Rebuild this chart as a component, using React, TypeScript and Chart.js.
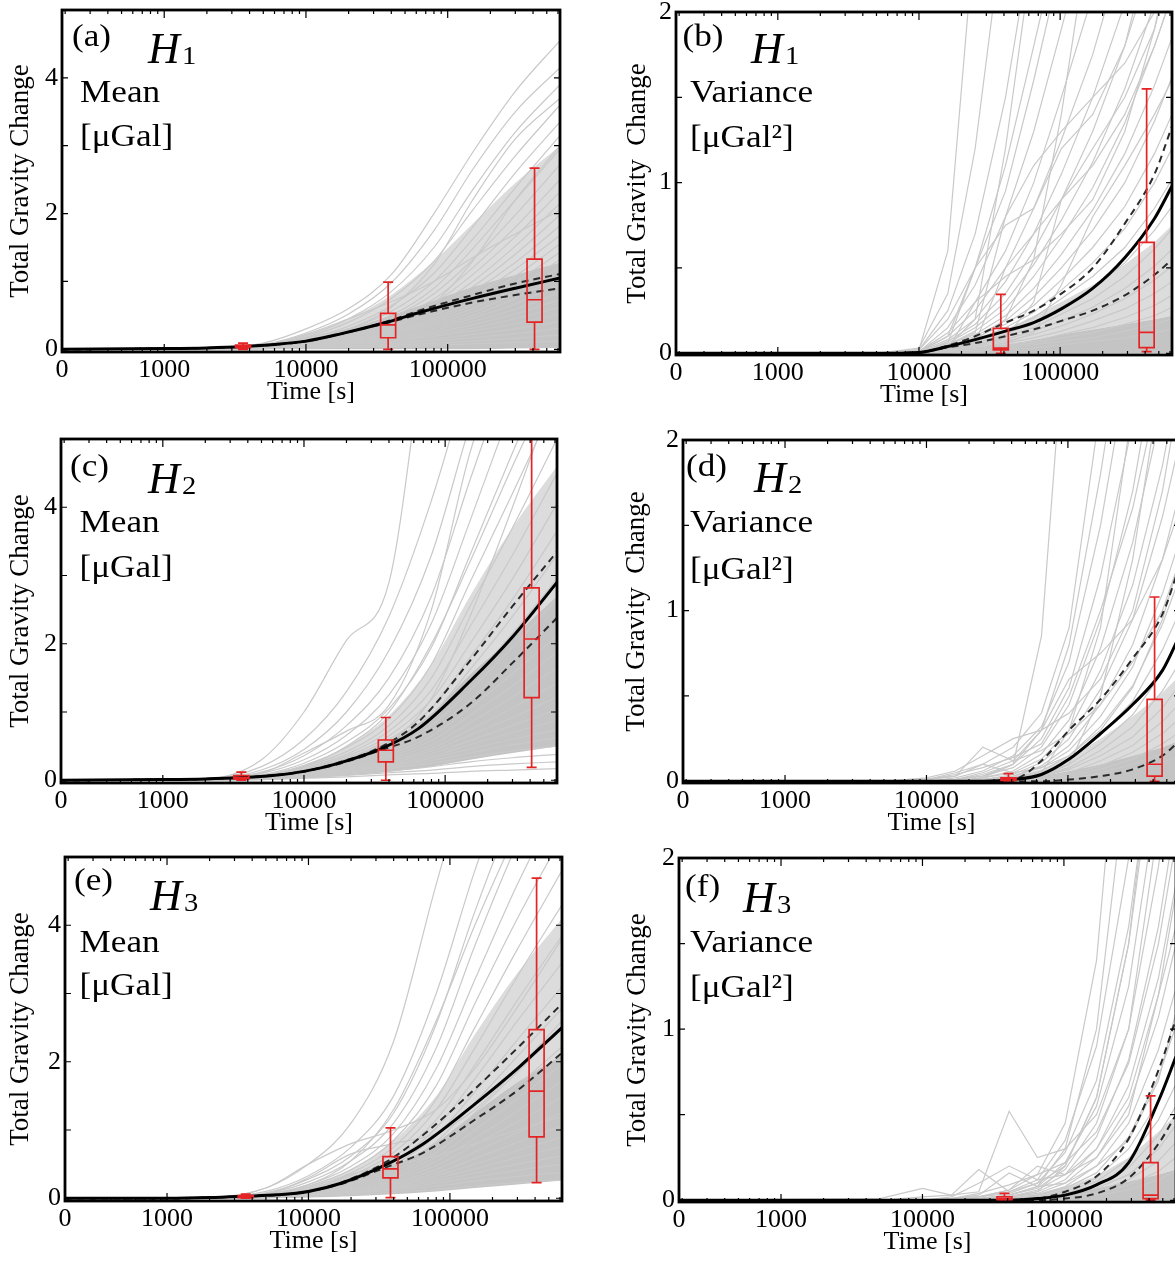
import React, { useEffect, useRef } from 'react';
import { Chart, registerables } from 'chart.js';
Chart.register(...registerables);

const FONT = '"Liberation Serif", "Times New Roman", Times, serif';

// ---------- axes ----------
const X_MIN = 190;
const X_MAX = 620000;
const X_TICK_VALUES = [190, 1000, 10000, 100000];
const X_TICK_LABELS = ['0', '1000', '10000', '100000'];
const X_MINOR_DECADES = [100, 1000, 10000, 100000];
const X_MINOR_MULTS = [1, 2, 3, 4, 5, 6, 7, 8, 9];
const MEAN_Y_TICKS = [0, 2, 4];
const MEAN_Y_MINOR = [0, 1, 2, 3, 4, 5];
const VAR_Y_TICKS = [0, 1, 2];
const VAR_Y_MINOR = [0, 0.5, 1, 1.5, 2];

// ---------- time grids [s] ----------
const T_MEAN_LINE = [190, 1000, 2000, 3600, 6000, 10000, 17000, 36000, 65000, 150000, 300000, 620000];
const T_MEAN_GRAY = [190, 2000, 5000, 10000, 20000, 40000, 80000, 150000, 300000, 620000];
const T_VAR = [190, 5000, 10000, 16000, 25000, 41000, 65000, 102000, 170000, 287000, 466000, 620000];
const BOX_T_MEAN = [3600, 38000, 410000];
const BOX_T_VAR = [38000, 410000];

// ---------- (a) H1 mean ----------
const A_MEAN = [0, 0.01, 0.02, 0.04, 0.07, 0.12, 0.22, 0.39, 0.55, 0.75, 0.9, 1.05];
const A_UPPER = [0, 0.01, 0.02, 0.04, 0.07, 0.12, 0.22, 0.4, 0.58, 0.8, 0.97, 1.11];
const A_LOWER = [0, 0.01, 0.02, 0.04, 0.07, 0.12, 0.22, 0.38, 0.52, 0.69, 0.8, 0.9];
const A_CORE_LO = [0, 0, 0, 0, 0, 0, 0, 0, 0.01, 0.02];
const A_CORE_HI = [0, 0.01, 0.04, 0.15, 0.3, 0.5, 0.72, 0.92, 1.1, 1.28];
const A_MID_HI = [0, 0.01, 0.06, 0.22, 0.45, 0.8, 1.3, 1.85, 2.45, 3.0];
const A_BOXES = [[0, 0.025, 0.04, 0.06, 0.09], [0, 0.17, 0.36, 0.53, 0.99], [0, 0.4, 0.73, 1.33, 2.67]];
const A_GRAY = [
  [0, 0.01, 0.09, 0.3, 0.6, 1.1, 2.0, 2.9, 3.8, 4.55],
  [0, 0.01, 0.07, 0.24, 0.52, 0.98, 1.75, 2.65, 3.5, 4.15],
  [0, 0.01, 0.06, 0.2, 0.45, 0.85, 1.5, 2.35, 3.2, 3.9],
  [0, 0.01, 0.05, 0.18, 0.4, 0.75, 1.3, 2.05, 2.85, 3.6],
  [0, 0.01, 0.05, 0.16, 0.34, 0.64, 1.12, 1.8, 2.6, 3.35],
  [0, 0.01, 0.05, 0.14, 0.3, 0.56, 1.0, 1.62, 2.38, 3.15],
  [0, 0.01, 0.04, 0.13, 0.28, 0.5, 0.9, 1.48, 2.2, 2.95],
  [0, 0.01, 0.04, 0.12, 0.26, 0.47, 0.82, 1.32, 1.98, 2.72],
  [0, 0.01, 0.04, 0.12, 0.24, 0.43, 0.74, 1.2, 1.8, 2.5],
  [0, 0.01, 0.04, 0.11, 0.22, 0.4, 0.68, 1.1, 1.66, 2.32],
  [0, 0.01, 0.03, 0.1, 0.21, 0.37, 0.62, 1.0, 1.52, 2.15],
  [0, 0.01, 0.03, 0.1, 0.2, 0.35, 0.58, 0.92, 1.4, 1.98],
  [0, 0.01, 0.03, 0.09, 0.19, 0.33, 0.54, 0.85, 1.28, 1.82],
  [0, 0.01, 0.03, 0.09, 0.18, 0.31, 0.5, 0.78, 1.18, 1.68],
  [0, 0.01, 0.03, 0.08, 0.17, 0.29, 0.46, 0.72, 1.08, 1.55],
  [0, 0.01, 0.03, 0.08, 0.16, 0.27, 0.43, 0.66, 0.99, 1.43],
  [0, 0.01, 0.03, 0.08, 0.15, 0.25, 0.4, 0.6, 0.9, 1.32],
  [0, 0.01, 0.02, 0.07, 0.14, 0.23, 0.37, 0.55, 0.82, 1.2],
  [0, 0.01, 0.02, 0.07, 0.13, 0.22, 0.34, 0.5, 0.75, 1.08],
  [0, 0.01, 0.02, 0.06, 0.12, 0.2, 0.31, 0.46, 0.67, 0.96],
  [0, 0.01, 0.02, 0.06, 0.11, 0.18, 0.28, 0.41, 0.59, 0.84],
  [0, 0.01, 0.02, 0.05, 0.1, 0.16, 0.25, 0.36, 0.52, 0.73],
  [0, 0.01, 0.02, 0.05, 0.09, 0.14, 0.22, 0.31, 0.45, 0.62],
  [0, 0, 0.02, 0.04, 0.08, 0.12, 0.19, 0.27, 0.38, 0.52],
  [0, 0, 0.01, 0.04, 0.07, 0.1, 0.15, 0.22, 0.3, 0.41],
  [0, 0, 0.01, 0.03, 0.05, 0.08, 0.12, 0.17, 0.23, 0.31],
  [0, 0, 0.01, 0.02, 0.04, 0.06, 0.09, 0.12, 0.16, 0.21],
  [0, 0, 0.01, 0.02, 0.03, 0.04, 0.06, 0.08, 0.1, 0.12],
  [0, 0.01, 0.06, 0.22, 0.45, 0.7, 1.0, 1.35, 1.7, 2.05],
  [0, 0.01, 0.04, 0.12, 0.3, 0.62, 1.25, 2.2, 3.1, 3.7],
  [0, 0, 0.02, 0.06, 0.15, 0.32, 0.68, 1.3, 2.2, 3.0],
  [0, 0.01, 0.05, 0.17, 0.3, 0.45, 0.6, 0.75, 0.9, 1.02],
];

// ---------- (b) H1 variance ----------
const B_MEAN = [0, 0, 0.005, 0.04, 0.08, 0.13, 0.18, 0.26, 0.38, 0.56, 0.79, 0.98];
const B_UPPER = [0, 0, 0.005, 0.045, 0.1, 0.18, 0.25, 0.35, 0.5, 0.76, 1.05, 1.33];
const B_LOWER = [0, 0, 0.005, 0.035, 0.06, 0.1, 0.14, 0.19, 0.25, 0.34, 0.46, 0.55];
const B_CORE_LO = [0, 0, 0, 0, 0, 0, 0, 0, 0, 0, 0, 0];
const B_CORE_HI = [0, 0, 0, 0.01, 0.03, 0.05, 0.08, 0.11, 0.14, 0.17, 0.2, 0.22];
const B_MID_HI = [0, 0, 0.005, 0.03, 0.08, 0.14, 0.22, 0.3, 0.4, 0.52, 0.65, 0.75];
const B_BOXES = [[0, 0.02, 0.03, 0.146, 0.345], [0.01, 0.033, 0.123, 0.65, 1.55]];
const B_GRAY = [
  [0, 0, 0.02, 0.6, 2.5, 4, 5, 6, 7, 8, 9, 10],
  [0, 0, 0.03, 0.35, 1.2, 2.6, 4, 5, 6, 7, 8, 9],
  [0, 0, 0.02, 0.25, 0.7, 1.5, 2.5, 3.5, 4.5, 5.5, 6.5, 7],
  [0, 0, 0.02, 0.2, 0.5, 0.95, 1.6, 2.3, 3, 4, 5, 6],
  [0, 0, 0.01, 0.15, 0.4, 0.8, 1.3, 1.9, 2.6, 3.4, 4.2, 5],
  [0, 0, 0.01, 0.12, 0.3, 0.6, 1.0, 1.5, 2.1, 2.8, 3.6, 4.2],
  [0, 0, 0.01, 0.1, 0.25, 0.5, 0.85, 1.25, 1.75, 2.4, 3.1, 3.6],
  [0, 0, 0.01, 0.08, 0.2, 0.42, 0.7, 1.05, 1.5, 2.05, 2.7, 3.1],
  [0, 0, 0, 0.07, 0.17, 0.35, 0.6, 0.9, 1.3, 1.8, 2.35, 2.75],
  [0, 0, 0, 0.06, 0.15, 0.3, 0.52, 0.78, 1.12, 1.55, 2.05, 2.4],
  [0, 0, 0, 0.05, 0.13, 0.26, 0.45, 0.68, 0.97, 1.35, 1.8, 2.1],
  [0, 0, 0, 0.05, 0.11, 0.22, 0.38, 0.58, 0.84, 1.17, 1.57, 1.85],
  [0, 0, 0, 0.04, 0.1, 0.19, 0.33, 0.5, 0.72, 1.0, 1.36, 1.62],
  [0, 0, 0, 0.04, 0.09, 0.17, 0.28, 0.43, 0.62, 0.86, 1.17, 1.4],
  [0, 0, 0, 0.03, 0.08, 0.15, 0.24, 0.37, 0.53, 0.73, 1.0, 1.2],
  [0, 0, 0, 0.03, 0.07, 0.13, 0.21, 0.32, 0.45, 0.62, 0.85, 1.02],
  [0, 0, 0, 0.03, 0.06, 0.11, 0.18, 0.27, 0.38, 0.53, 0.72, 0.86],
  [0, 0, 0, 0.02, 0.05, 0.1, 0.15, 0.23, 0.32, 0.45, 0.61, 0.73],
  [0, 0, 0, 0.02, 0.05, 0.08, 0.13, 0.19, 0.27, 0.38, 0.51, 0.61],
  [0, 0, 0, 0.02, 0.04, 0.07, 0.11, 0.16, 0.23, 0.32, 0.43, 0.51],
  [0, 0, 0, 0.01, 0.03, 0.06, 0.09, 0.13, 0.19, 0.26, 0.35, 0.42],
  [0, 0, 0, 0.01, 0.03, 0.05, 0.07, 0.11, 0.15, 0.21, 0.28, 0.34],
  [0, 0, 0, 0.01, 0.02, 0.04, 0.06, 0.09, 0.12, 0.17, 0.22, 0.27],
  [0, 0, 0, 0.01, 0.02, 0.03, 0.05, 0.07, 0.09, 0.13, 0.17, 0.2],
  [0, 0, 0, 0, 0.01, 0.02, 0.03, 0.05, 0.07, 0.09, 0.12, 0.14],
  [0, 0, 0.01, 0.1, 0.5, 0.75, 0.85, 1.2, 1.4, 1.8, 2.5, 3.0],
  [0, 0, 0.01, 0.05, 0.12, 0.8, 1.1, 1.3, 1.5, 1.7, 2.0, 2.2],
  [0, 0, 0, 0.02, 0.3, 0.45, 0.55, 0.7, 0.9, 1.3, 1.9, 2.4],
  [0, 0, 0.01, 0.04, 0.2, 1.2, 2.4, 3.5, 4.5, 5.5, 6, 7],
  [0, 0, 0, 0.03, 0.08, 0.2, 0.55, 1.4, 2.6, 3.6, 4.5, 5],
  [0, 0, 0.01, 0.06, 0.5, 1.1, 1.8, 2.5, 3.2, 4, 5, 6],
  [0, 0, 0, 0.02, 0.06, 0.5, 0.7, 0.9, 1.1, 1.4, 1.8, 2.1],
  [0, 0, 0, 0.01, 0.04, 0.09, 0.3, 0.9, 1.2, 1.5, 1.9, 2.3],
  [0, 0, 0, 0.01, 0.03, 0.06, 0.12, 0.4, 0.8, 1.1, 1.4, 1.6],
];

// ---------- (c) H2 mean ----------
const C_MEAN = [0, 0.01, 0.02, 0.04, 0.07, 0.13, 0.24, 0.47, 0.76, 1.45, 2.1, 2.9];
const C_UPPER = [0, 0.01, 0.02, 0.04, 0.07, 0.13, 0.25, 0.5, 0.86, 1.75, 2.55, 3.35];
const C_LOWER = [0, 0.01, 0.02, 0.04, 0.07, 0.13, 0.23, 0.45, 0.64, 1.12, 1.72, 2.38];
const C_CORE_LO = [0, 0, 0.01, 0.03, 0.07, 0.12, 0.2, 0.3, 0.4, 0.5];
const C_CORE_HI = [0, 0.01, 0.04, 0.15, 0.32, 0.58, 0.98, 1.55, 2.1, 2.7];
const C_MID_HI = [0, 0.01, 0.06, 0.22, 0.5, 0.95, 1.7, 2.7, 3.7, 4.6];
const C_BOXES = [[0, 0.02, 0.04, 0.07, 0.12], [0, 0.27, 0.44, 0.59, 0.92], [0.19, 1.21, 2.07, 2.82, 5.6]];
const C_GRAY = [
  [0, 0.02, 0.3, 1.0, 2.05, 2.9, 7, 9, 11, 13],
  [0, 0.02, 0.2, 0.6, 1.3, 2.4, 4.1, 6.0, 8, 10],
  [0, 0.02, 0.15, 0.45, 1.0, 1.9, 3.3, 5.2, 7, 9],
  [0, 0.01, 0.12, 0.36, 0.8, 1.5, 2.7, 4.4, 6.2, 8],
  [0, 0.01, 0.1, 0.3, 0.66, 1.25, 2.3, 3.8, 5.5, 7.2],
  [0, 0.01, 0.08, 0.25, 0.56, 1.05, 1.95, 3.3, 4.8, 6.3],
  [0, 0.01, 0.07, 0.22, 0.48, 0.9, 1.7, 2.9, 4.2, 5.6],
  [0, 0.01, 0.06, 0.2, 0.42, 0.8, 1.5, 2.55, 3.7, 5.0],
  [0, 0.01, 0.06, 0.18, 0.38, 0.72, 1.32, 2.25, 3.3, 4.5],
  [0, 0.01, 0.05, 0.16, 0.35, 0.65, 1.18, 2.0, 2.95, 4.05],
  [0, 0.01, 0.05, 0.15, 0.32, 0.6, 1.06, 1.8, 2.65, 3.65],
  [0, 0.01, 0.05, 0.14, 0.3, 0.55, 0.96, 1.62, 2.4, 3.3],
  [0, 0.01, 0.04, 0.13, 0.28, 0.5, 0.88, 1.46, 2.15, 2.95],
  [0, 0.01, 0.04, 0.12, 0.26, 0.46, 0.8, 1.32, 1.95, 2.65],
  [0, 0.01, 0.04, 0.11, 0.24, 0.42, 0.72, 1.18, 1.75, 2.38],
  [0, 0.01, 0.04, 0.1, 0.22, 0.38, 0.65, 1.06, 1.56, 2.12],
  [0, 0.01, 0.03, 0.1, 0.2, 0.35, 0.58, 0.95, 1.38, 1.88],
  [0, 0.01, 0.03, 0.09, 0.18, 0.32, 0.52, 0.84, 1.22, 1.65],
  [0, 0.01, 0.03, 0.08, 0.17, 0.29, 0.47, 0.74, 1.06, 1.42],
  [0, 0.01, 0.03, 0.08, 0.16, 0.27, 0.43, 0.66, 0.92, 1.22],
  [0, 0.01, 0.03, 0.07, 0.15, 0.25, 0.39, 0.58, 0.8, 1.04],
  [0, 0.01, 0.02, 0.07, 0.14, 0.23, 0.35, 0.52, 0.7, 0.88],
  [0, 0.01, 0.02, 0.06, 0.13, 0.21, 0.32, 0.46, 0.6, 0.74],
  [0, 0.01, 0.02, 0.06, 0.12, 0.19, 0.29, 0.4, 0.52, 0.62],
  [0, 0.01, 0.02, 0.05, 0.1, 0.17, 0.25, 0.34, 0.43, 0.5],
  [0, 0, 0.02, 0.04, 0.09, 0.14, 0.2, 0.27, 0.33, 0.38],
  [0, 0, 0.01, 0.04, 0.07, 0.11, 0.15, 0.2, 0.24, 0.27],
  [0, 0, 0.01, 0.03, 0.05, 0.08, 0.1, 0.13, 0.15, 0.17],
  [0, 0.01, 0.1, 0.4, 0.72, 1.1, 2.5, 4.8, 6.5, 8],
  [0, 0.01, 0.05, 0.2, 0.5, 1.0, 2.0, 3.2, 4.6, 6.0],
  [0, 0.01, 0.03, 0.1, 0.25, 0.55, 1.2, 2.4, 4.0, 5.8],
];

// ---------- (d) H2 variance ----------
const D_MEAN = [0, 0, 0, 0, 0, 0.01, 0.04, 0.13, 0.28, 0.45, 0.65, 0.86];
const D_UPPER = [0, 0, 0, 0, 0, 0.01, 0.12, 0.3, 0.48, 0.72, 0.98, 1.27];
const D_LOWER = [0, 0, 0, 0, 0, 0, 0, 0.01, 0.03, 0.07, 0.15, 0.24];
const D_CORE_LO = [0, 0, 0, 0, 0, 0, 0, 0, 0, 0, 0, 0];
const D_CORE_HI = [0, 0, 0, 0, 0, 0.01, 0.03, 0.06, 0.1, 0.15, 0.2, 0.24];
const D_MID_HI = [0, 0, 0, 0, 0.01, 0.03, 0.07, 0.14, 0.25, 0.38, 0.52, 0.62];
const D_BOXES = [[0, 0.004, 0.01, 0.02, 0.045], [0, 0.03, 0.1, 0.48, 1.08]];
const D_GRAY = [
  [0, 0, 0, 0, 0.02, 0.1, 0.85, 3, 4, 5, 6, 7],
  [0, 0, 0.01, 0.05, 0.1, 0.2, 0.4, 0.9, 2.2, 3.5, 5, 6],
  [0, 0, 0, 0.02, 0.06, 0.15, 0.32, 0.7, 1.5, 2.6, 4, 5],
  [0, 0, 0, 0.01, 0.04, 0.1, 0.25, 0.55, 1.2, 2.1, 3.3, 4.2],
  [0, 0, 0, 0.01, 0.03, 0.08, 0.2, 0.45, 0.95, 1.7, 2.7, 3.5],
  [0, 0, 0, 0, 0.02, 0.06, 0.16, 0.36, 0.78, 1.4, 2.2, 2.9],
  [0, 0, 0, 0, 0.02, 0.05, 0.13, 0.3, 0.65, 1.15, 1.85, 2.4],
  [0, 0, 0, 0, 0.01, 0.04, 0.11, 0.25, 0.54, 0.95, 1.55, 2.0],
  [0, 0, 0, 0, 0.01, 0.03, 0.09, 0.21, 0.45, 0.8, 1.3, 1.7],
  [0, 0, 0, 0, 0.01, 0.03, 0.08, 0.18, 0.38, 0.67, 1.1, 1.42],
  [0, 0, 0, 0, 0.01, 0.02, 0.06, 0.15, 0.32, 0.56, 0.92, 1.2],
  [0, 0, 0, 0, 0, 0.02, 0.05, 0.12, 0.27, 0.47, 0.77, 1.0],
  [0, 0, 0, 0, 0, 0.01, 0.04, 0.1, 0.22, 0.39, 0.64, 0.84],
  [0, 0, 0, 0, 0, 0.01, 0.03, 0.08, 0.18, 0.32, 0.53, 0.7],
  [0, 0, 0, 0, 0, 0.01, 0.03, 0.07, 0.15, 0.26, 0.43, 0.57],
  [0, 0, 0, 0, 0, 0.01, 0.02, 0.05, 0.12, 0.21, 0.35, 0.46],
  [0, 0, 0, 0, 0, 0, 0.02, 0.04, 0.09, 0.17, 0.28, 0.37],
  [0, 0, 0, 0, 0, 0, 0.01, 0.03, 0.07, 0.13, 0.22, 0.29],
  [0, 0, 0, 0, 0, 0, 0.01, 0.02, 0.05, 0.1, 0.16, 0.22],
  [0, 0, 0, 0, 0, 0, 0.01, 0.02, 0.04, 0.07, 0.11, 0.15],
  [0, 0, 0.02, 0.06, 0.15, 0.25, 0.3, 0.4, 0.6, 1.0, 1.7, 2.3],
  [0, 0, 0.01, 0.04, 0.08, 0.14, 0.22, 0.5, 1.0, 1.6, 2.4, 3.0],
  [0, 0, 0, 0.01, 0.05, 0.12, 0.3, 0.6, 0.75, 0.95, 1.3, 1.6],
  [0, 0, 0.01, 0.03, 0.1, 0.05, 0.08, 0.15, 0.3, 0.55, 0.95, 1.3],
  [0, 0, 0, 0.01, 0.03, 0.1, 0.3, 0.8, 1.8, 3.0, 4.2, 5],
  [0, 0, 0, 0, 0.01, 0.02, 0.05, 0.3, 0.9, 2.2, 3.5, 4.5],
  [0, 0, 0, 0, 0, 0.01, 0.03, 0.1, 0.5, 1.3, 2.4, 3.2],
  [0, 0, 0.01, 0.03, 0.2, 0.12, 0.18, 0.28, 0.45, 0.7, 1.0, 1.3],
];

// ---------- (e) H3 mean ----------
const E_MEAN = [0, 0, 0.01, 0.03, 0.05, 0.1, 0.22, 0.5, 0.8, 1.38, 1.9, 2.5];
const E_UPPER = [0, 0, 0.01, 0.03, 0.05, 0.1, 0.23, 0.54, 0.93, 1.6, 2.2, 2.85];
const E_LOWER = [0, 0, 0.01, 0.03, 0.05, 0.1, 0.21, 0.46, 0.67, 1.15, 1.58, 2.13];
const E_CORE_LO = [0, 0, 0, 0.01, 0.03, 0.06, 0.1, 0.15, 0.2, 0.26];
const E_CORE_HI = [0, 0.01, 0.03, 0.12, 0.27, 0.48, 0.82, 1.25, 1.7, 2.1];
const E_MID_HI = [0, 0.01, 0.05, 0.18, 0.42, 0.85, 1.5, 2.4, 3.3, 4.1];
const E_BOXES = [[0, 0.01, 0.02, 0.04, 0.06], [0.01, 0.3, 0.43, 0.61, 1.03], [0.23, 0.9, 1.57, 2.47, 4.69]];
const E_GRAY = [
  [0, 0.01, 0.15, 0.5, 1.1, 2.3, 4.6, 6.5, 8, 9],
  [0, 0.01, 0.1, 0.33, 0.75, 1.5, 3.0, 4.8, 6.5, 7.8],
  [0, 0.01, 0.08, 0.28, 0.62, 1.25, 2.55, 4.2, 5.8, 7.2],
  [0, 0.01, 0.07, 0.24, 0.55, 1.1, 2.2, 3.7, 5.2, 6.5],
  [0, 0.01, 0.06, 0.2, 0.47, 0.95, 1.9, 3.2, 4.6, 5.9],
  [0, 0.01, 0.05, 0.18, 0.42, 0.85, 1.65, 2.85, 4.1, 5.3],
  [0, 0.01, 0.05, 0.16, 0.37, 0.75, 1.45, 2.5, 3.65, 4.8],
  [0, 0.01, 0.04, 0.14, 0.33, 0.67, 1.3, 2.2, 3.25, 4.3],
  [0, 0.01, 0.04, 0.13, 0.3, 0.6, 1.15, 1.95, 2.9, 3.85],
  [0, 0.01, 0.04, 0.12, 0.27, 0.54, 1.03, 1.75, 2.6, 3.45],
  [0, 0.01, 0.03, 0.11, 0.25, 0.49, 0.92, 1.56, 2.32, 3.1],
  [0, 0.01, 0.03, 0.1, 0.23, 0.44, 0.83, 1.4, 2.08, 2.78],
  [0, 0.01, 0.03, 0.09, 0.21, 0.4, 0.75, 1.25, 1.85, 2.5],
  [0, 0.01, 0.03, 0.08, 0.19, 0.36, 0.67, 1.12, 1.65, 2.22],
  [0, 0.01, 0.03, 0.08, 0.17, 0.33, 0.6, 1.0, 1.46, 1.96],
  [0, 0.01, 0.02, 0.07, 0.16, 0.3, 0.54, 0.88, 1.28, 1.72],
  [0, 0.01, 0.02, 0.07, 0.14, 0.27, 0.48, 0.78, 1.12, 1.48],
  [0, 0.01, 0.02, 0.06, 0.13, 0.24, 0.42, 0.68, 0.96, 1.26],
  [0, 0.01, 0.02, 0.06, 0.12, 0.22, 0.37, 0.58, 0.82, 1.06],
  [0, 0.01, 0.02, 0.05, 0.11, 0.2, 0.33, 0.5, 0.7, 0.9],
  [0, 0, 0.02, 0.05, 0.1, 0.18, 0.29, 0.43, 0.6, 0.76],
  [0, 0, 0.01, 0.04, 0.09, 0.16, 0.25, 0.37, 0.5, 0.62],
  [0, 0, 0.01, 0.04, 0.08, 0.14, 0.22, 0.31, 0.41, 0.5],
  [0, 0, 0.01, 0.03, 0.07, 0.12, 0.18, 0.25, 0.32, 0.38],
  [0, 0, 0.01, 0.03, 0.05, 0.09, 0.13, 0.18, 0.23, 0.27],
  [0, 0.01, 0.15, 0.5, 0.8, 1.0, 1.3, 1.9, 2.8, 3.8],
  [0, 0.01, 0.06, 0.3, 0.65, 0.8, 0.95, 1.3, 1.9, 2.6],
  [0, 0, 0.02, 0.1, 0.35, 0.5, 0.62, 0.8, 1.0, 1.2],
  [0, 0.01, 0.05, 0.2, 0.55, 1.3, 2.6, 4.0, 5.4, 6.8],
];

// ---------- (f) H3 variance ----------
const F_MEAN = [0, 0, 0, 0, 0, 0, 0.01, 0.03, 0.09, 0.22, 0.58, 0.84];
const F_UPPER = [0, 0, 0, 0, 0, 0, 0.01, 0.05, 0.14, 0.36, 0.76, 1.06];
const F_LOWER = [0, 0, 0, 0, 0, 0, 0, 0.01, 0.04, 0.13, 0.33, 0.5];
const F_CORE_LO = [0, 0, 0, 0, 0, 0, 0, 0, 0, 0, 0, 0];
const F_CORE_HI = [0, 0, 0, 0, 0, 0.01, 0.02, 0.04, 0.07, 0.11, 0.15, 0.18];
const F_MID_HI = [0, 0, 0, 0, 0.01, 0.02, 0.04, 0.08, 0.14, 0.25, 0.4, 0.5];
const F_BOXES = [[0, 0.003, 0.008, 0.02, 0.04], [0, 0.01, 0.03, 0.22, 0.61]];
const F_GRAY = [
  [0, 0, 0.02, 0.03, 0.05, 0.52, 0.25, 0.3, 0.5, 1.0, 2.2, 3.5],
  [0, 0.01, 0.07, 0.03, 0.18, 0.05, 0.1, 0.2, 0.6, 1.5, 3, 4.5],
  [0, 0, 0, 0.01, 0.02, 0.06, 0.15, 0.45, 1.4, 3.5, 5, 6],
  [0, 0, 0, 0.01, 0.02, 0.05, 0.12, 0.35, 0.9, 2.0, 3.5, 5],
  [0, 0, 0, 0.01, 0.02, 0.04, 0.1, 0.28, 0.7, 1.6, 2.9, 4],
  [0, 0, 0, 0, 0.01, 0.03, 0.08, 0.22, 0.55, 1.25, 2.4, 3.3],
  [0, 0, 0, 0, 0.01, 0.03, 0.07, 0.18, 0.45, 1.0, 1.95, 2.7],
  [0, 0, 0, 0, 0.01, 0.02, 0.06, 0.15, 0.37, 0.82, 1.6, 2.25],
  [0, 0, 0, 0, 0.01, 0.02, 0.05, 0.12, 0.3, 0.67, 1.3, 1.85],
  [0, 0, 0, 0, 0, 0.02, 0.04, 0.1, 0.25, 0.55, 1.07, 1.5],
  [0, 0, 0, 0, 0, 0.01, 0.03, 0.08, 0.2, 0.45, 0.88, 1.24],
  [0, 0, 0, 0, 0, 0.01, 0.03, 0.07, 0.16, 0.37, 0.72, 1.02],
  [0, 0, 0, 0, 0, 0.01, 0.02, 0.06, 0.13, 0.3, 0.58, 0.84],
  [0, 0, 0, 0, 0, 0.01, 0.02, 0.05, 0.11, 0.24, 0.47, 0.68],
  [0, 0, 0, 0, 0, 0, 0.02, 0.04, 0.09, 0.19, 0.38, 0.55],
  [0, 0, 0, 0, 0, 0, 0.01, 0.03, 0.07, 0.15, 0.3, 0.44],
  [0, 0, 0, 0, 0, 0, 0.01, 0.02, 0.05, 0.12, 0.23, 0.34],
  [0, 0, 0, 0, 0, 0, 0.01, 0.02, 0.04, 0.09, 0.17, 0.25],
  [0, 0, 0, 0, 0, 0, 0, 0.01, 0.03, 0.06, 0.12, 0.17],
  [0, 0, 0, 0.01, 0.04, 0.09, 0.15, 0.22, 0.4, 0.8, 1.5, 2.1],
  [0, 0, 0, 0, 0.02, 0.06, 0.2, 0.15, 0.25, 0.5, 1.2, 1.8],
  [0, 0, 0, 0.01, 0.03, 0.16, 0.08, 0.1, 0.2, 0.35, 0.7, 1.1],
  [0, 0, 0, 0, 0.01, 0.03, 0.08, 0.3, 1.0, 2.6, 4, 5],
  [0, 0, 0, 0, 0, 0.02, 0.05, 0.2, 0.6, 1.5, 2.8, 3.8],
  [0, 0, 0, 0.02, 0.1, 0.2, 0.12, 0.15, 0.3, 0.6, 1.2, 1.6],
];

// ---------- panel layout ----------
const PANELS: any[] = [
  { id: 'a', canvas: [0, 0, 590, 420], area: [62, 10, 560, 352], titleX: 21, kind: 'mean', yTitle: 'Total Gravity Change',
    letter: '(a)', sub: '1', l1: 'Mean', l2: '[\u03BCGal]', pos: { letter: [10, 36], h: [86, 53], sub: [120, 54], l1: [18, 92], l2: [18, 136] },
    mean: A_MEAN, upper: A_UPPER, lower: A_LOWER, gray: A_GRAY, coreLo: A_CORE_LO, coreHi: A_CORE_HI, midHi: A_MID_HI, boxes: A_BOXES },
  { id: 'b', canvas: [600, 0, 600, 420], area: [676, 12, 1172, 355], titleX: 637.6, kind: 'var', yTitle: 'Total Gravity  Change',
    letter: '(b)', sub: '1', l1: 'Variance', l2: '[\u03BCGal\u00B2]', pos: { letter: [6.5, 34], h: [75, 51], sub: [109, 52], l1: [14, 90], l2: [14, 135] },
    mean: B_MEAN, upper: B_UPPER, lower: B_LOWER, gray: B_GRAY, coreLo: B_CORE_LO, coreHi: B_CORE_HI, midHi: B_MID_HI, boxes: B_BOXES },
  { id: 'c', canvas: [0, 425, 590, 418], area: [61, 439, 557, 783], titleX: 21, kind: 'mean', yTitle: 'Total Gravity Change',
    letter: '(c)', sub: '2', l1: 'Mean', l2: '[\u03BCGal]', pos: { letter: [9, 37], h: [87, 54], sub: [121, 55], l1: [18.5, 93], l2: [18.5, 138] },
    mean: C_MEAN, upper: C_UPPER, lower: C_LOWER, gray: C_GRAY, coreLo: C_CORE_LO, coreHi: C_CORE_HI, midHi: C_MID_HI, boxes: C_BOXES },
  { id: 'd', canvas: [600, 425, 600, 418], area: [683, 440, 1180, 783], titleX: 637, kind: 'var', yTitle: 'Total Gravity  Change',
    letter: '(d)', sub: '2', l1: 'Variance', l2: '[\u03BCGal\u00B2]', pos: { letter: [3, 36], h: [71, 52], sub: [105, 53], l1: [7, 92], l2: [7, 139] },
    mean: D_MEAN, upper: D_UPPER, lower: D_LOWER, gray: D_GRAY, coreLo: D_CORE_LO, coreHi: D_CORE_HI, midHi: D_MID_HI, boxes: D_BOXES },
  { id: 'e', canvas: [0, 843, 590, 420], area: [65, 857, 562, 1201], titleX: 21, kind: 'mean', yTitle: 'Total Gravity Change',
    letter: '(e)', sub: '3', l1: 'Mean', l2: '[\u03BCGal]', pos: { letter: [9, 33], h: [85, 53], sub: [119, 54], l1: [14.5, 95], l2: [14.5, 138] },
    mean: E_MEAN, upper: E_UPPER, lower: E_LOWER, gray: E_GRAY, coreLo: E_CORE_LO, coreHi: E_CORE_HI, midHi: E_MID_HI, boxes: E_BOXES },
  { id: 'f', canvas: [600, 843, 600, 420], area: [679, 858, 1176, 1202], titleX: 637.6, kind: 'var', yTitle: 'Total Gravity Change',
    letter: '(f)', sub: '3', l1: 'Variance', l2: '[\u03BCGal\u00B2]', pos: { letter: [6, 38], h: [64, 54], sub: [98, 55], l1: [11, 94], l2: [11, 139] },
    mean: F_MEAN, upper: F_UPPER, lower: F_LOWER, gray: F_GRAY, coreLo: F_CORE_LO, coreHi: F_CORE_HI, midHi: F_MID_HI, boxes: F_BOXES },
];

const X_AXIS_H = 58;
const TITLE_SIZE = 27;
const TICK_SIZE = 26;
const RED = '#e42424';
const GRAY_LINE = '#c9c9c9';
const GRAY_CORE = '#c4c4c4';
const GRAY_MID = '#dcdcdc';
const TEXT_STRETCH = 1.1;

function pts(ts: number[], vs: number[]) {
  return ts.map((t, i) => ({ x: t, y: vs[i] }));
}

function Panel({ p }: { p: any }) {
  const ref = useRef<HTMLCanvasElement>(null);
  useEffect(() => {
    const canvas = ref.current!;
    const [cl, ct, cw, ch] = p.canvas;
    const [al, at, ar, ab] = p.area;
    const isMean = p.kind === 'mean';
    const padL = p.titleX - cl - (TITLE_SIZE * 1.2) / 2;
    const yAxisW = al - cl - padL;
    const padT = at - ct;
    const padR = cl + cw - ar;
    const padB = ct + ch - ab - X_AXIS_H;
    const tLine = isMean ? T_MEAN_LINE : T_VAR;
    const tGray = isMean ? T_MEAN_GRAY : T_VAR;
    const boxTimes = isMean ? BOX_T_MEAN : BOX_T_VAR;
    const grayInterp = isMean ? 'monotone' : 'default';

    const datasets: any[] = [];
    datasets.push({ data: pts(tLine, p.mean), borderColor: '#000', borderWidth: 3, order: 0, cubicInterpolationMode: 'monotone', fill: false });
    datasets.push({ data: pts(tLine, p.upper), borderColor: '#2a2a2a', borderWidth: 2, borderDash: [7, 5], order: 1, cubicInterpolationMode: 'monotone', fill: false });
    datasets.push({ data: pts(tLine, p.lower), borderColor: '#2a2a2a', borderWidth: 2, borderDash: [7, 5], order: 1, cubicInterpolationMode: 'monotone', fill: false });
    p.gray.forEach((g: number[]) => {
      datasets.push({ data: pts(tGray, g), borderColor: GRAY_LINE, borderWidth: 1.2, order: 2, cubicInterpolationMode: grayInterp, fill: false });
    });
    datasets.push({ data: pts(tGray, p.coreLo), borderColor: 'rgba(0,0,0,0)', borderWidth: 0, order: 3, cubicInterpolationMode: grayInterp, fill: false });
    datasets.push({ data: pts(tGray, p.coreHi), borderColor: 'rgba(0,0,0,0)', borderWidth: 0, order: 3, cubicInterpolationMode: grayInterp, fill: '-1', backgroundColor: GRAY_CORE });
    datasets.push({ data: pts(tGray, p.midHi), borderColor: 'rgba(0,0,0,0)', borderWidth: 0, order: 3, cubicInterpolationMode: grayInterp, fill: '-1', backgroundColor: GRAY_MID });

    const boxPlugin = {
      id: 'boxes',
      afterDatasetsDraw(chart: any) {
        const { ctx, chartArea: a, scales } = chart;
        const x = scales.x, y = scales.y;
        ctx.save();
        ctx.beginPath();
        ctx.rect(a.left, a.top, a.right - a.left, a.bottom - a.top);
        ctx.clip();
        ctx.strokeStyle = RED;
        ctx.lineWidth = 1.7;
        boxTimes.forEach((t: number, i: number) => {
          const b = p.boxes[i];
          const cx = x.getPixelForValue(t);
          const [lo, q1, md, q3, hi] = b.map((v: number) => y.getPixelForValue(v));
          const hw = 7.5, cw2 = 5;
          ctx.beginPath();
          ctx.rect(cx - hw, q3, hw * 2, q1 - q3);
          ctx.moveTo(cx - hw, md); ctx.lineTo(cx + hw, md);
          ctx.moveTo(cx, q3); ctx.lineTo(cx, hi);
          ctx.moveTo(cx, q1); ctx.lineTo(cx, lo);
          ctx.moveTo(cx - cw2, hi); ctx.lineTo(cx + cw2, hi);
          ctx.moveTo(cx - cw2, lo); ctx.lineTo(cx + cw2, lo);
          ctx.stroke();
        });
        ctx.restore();
      },
    };

    const framePlugin = {
      id: 'frame',
      afterDraw(chart: any) {
        const { ctx, chartArea: a, scales } = chart;
        const x = scales.x, y = scales.y;
        ctx.save();
        ctx.strokeStyle = '#000';
        ctx.lineWidth = 1.2;
        ctx.beginPath();
        X_MINOR_DECADES.forEach((d) => {
          X_MINOR_MULTS.forEach((m) => {
            const v = d * m;
            if (v <= X_MIN || v >= X_MAX) return;
            const px = x.getPixelForValue(v);
            const len = m === 1 ? 8 : 4;
            ctx.moveTo(px, a.bottom); ctx.lineTo(px, a.bottom - len);
            ctx.moveTo(px, a.top); ctx.lineTo(px, a.top + len);
          });
        });
        (isMean ? MEAN_Y_MINOR : VAR_Y_MINOR).forEach((v) => {
          const py = y.getPixelForValue(v);
          ctx.moveTo(a.left, py); ctx.lineTo(a.left + 6, py);
          ctx.moveTo(a.right, py); ctx.lineTo(a.right - 6, py);
        });
        ctx.stroke();
        ctx.lineWidth = 2.8;
        ctx.strokeRect(a.left, a.top, a.right - a.left, a.bottom - a.top);

        // panel annotations
        ctx.fillStyle = '#000';
        ctx.textAlign = 'left';
        ctx.textBaseline = 'alphabetic';
        const put = (txt: string, xy: number[], font: string, sx: number) => {
          ctx.save();
          ctx.translate(a.left + xy[0], a.top + xy[1]);
          ctx.scale(sx, 1);
          ctx.font = font;
          ctx.fillText(txt, 0, 0);
          ctx.restore();
        };
        put(p.letter, p.pos.letter, `32px ${FONT}`, TEXT_STRETCH);
        put('H', p.pos.h, `italic 44px ${FONT}`, 1.0);
        put(p.sub, p.pos.sub, `26px ${FONT}`, TEXT_STRETCH);
        put(p.l1, p.pos.l1, `32px ${FONT}`, TEXT_STRETCH);
        put(p.l2, p.pos.l2, `32px ${FONT}`, TEXT_STRETCH);
        ctx.restore();
      },
    };

    const yTicks = isMean ? MEAN_Y_TICKS : VAR_Y_TICKS;
    const chart = new Chart(canvas, {
      type: 'line',
      data: { datasets },
      options: {
        animation: false,
        responsive: false,
        maintainAspectRatio: false,
        events: [],
        layout: { autoPadding: false, padding: { left: padL, right: padR, top: padT, bottom: padB } },
        elements: { point: { radius: 0 }, line: { tension: 0 } },
        plugins: { legend: { display: false }, tooltip: { enabled: false } },
        scales: {
          x: {
            type: 'logarithmic',
            min: X_MIN,
            max: X_MAX,
            grid: { display: false, drawTicks: false },
            border: { display: false },
            ticks: {
              autoSkip: false, maxRotation: 0, minRotation: 0, padding: 3, color: '#000',
              font: { family: FONT, size: TICK_SIZE },
              callback: (_v: any, i: number) => X_TICK_LABELS[i],
            },
            title: { display: true, text: 'Time [s]', color: '#000', font: { family: FONT, size: TICK_SIZE }, padding: { top: 0, bottom: 2 } },
            afterBuildTicks: (s: any) => { s.ticks = X_TICK_VALUES.map((v) => ({ value: v })); },
            afterFit: (s: any) => { s.height = X_AXIS_H; s.paddingLeft = 0; s.paddingRight = 0; s.paddingTop = 0; s.paddingBottom = 0; },
          },
          y: {
            type: 'linear',
            min: isMean ? -0.04 : -0.01,
            max: isMean ? 5.0 : 2.0,
            grid: { display: false, drawTicks: false },
            border: { display: false },
            ticks: {
              padding: 4, color: '#000',
              font: { family: FONT, size: TICK_SIZE },
              callback: (v: any) => String(v),
            },
            title: { display: true, text: p.yTitle, color: '#000', font: { family: FONT, size: TITLE_SIZE }, padding: { top: 0, bottom: 0 } },
            afterBuildTicks: (s: any) => { s.ticks = yTicks.map((v) => ({ value: v })); },
            afterFit: (s: any) => { s.width = yAxisW; s.paddingLeft = 0; s.paddingRight = 0; s.paddingTop = 0; s.paddingBottom = 0; },
          },
        },
      } as any,
      plugins: [boxPlugin, framePlugin],
    });
    return () => chart.destroy();
  }, [p]);

  const [cl, ct, cw, ch] = p.canvas;
  return (
    <canvas
      ref={ref}
      width={cw}
      height={ch}
      style={{ position: 'absolute', left: cl, top: ct, width: cw, height: ch }}
    />
  );
}

export default function App() {
  return (
    <div style={{ position: 'absolute', left: 0, top: 0, width: 1175, height: 1263, overflow: 'hidden', background: '#fff' }}>
      {PANELS.map((p) => (
        <Panel key={p.id} p={p} />
      ))}
    </div>
  );
}
